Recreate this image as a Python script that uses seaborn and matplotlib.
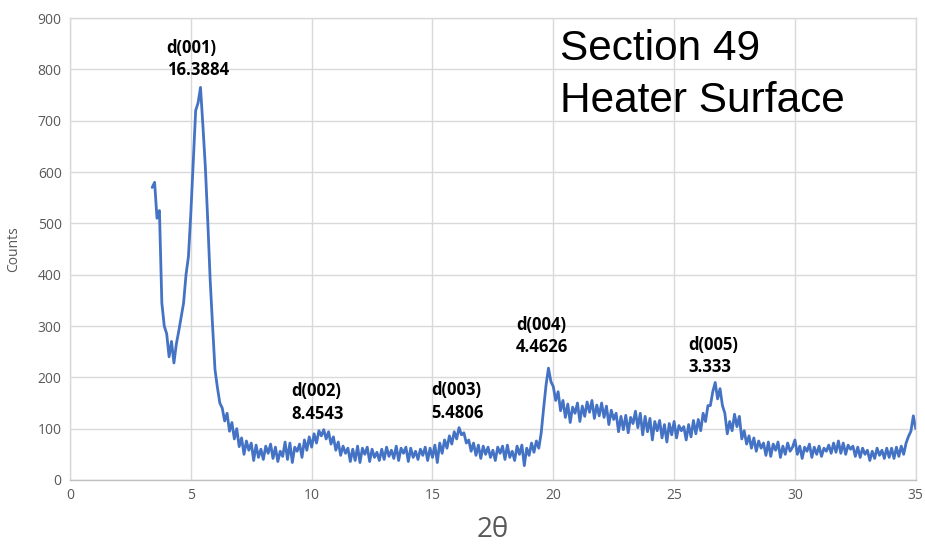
import numpy as np
import pandas as pd
import matplotlib
matplotlib.use("Agg")
import matplotlib.pyplot as plt
import seaborn as sns

# 2-theta scan: start and step of the scan, counts
TWO_THETA_START = 3.4
TWO_THETA_STEP = 0.1
counts = [
    570, 580, 510, 525, 345, 300,                                  # 3.4-3.9
    285, 240, 270, 228, 265, 290, 318, 345, 400, 435,              # 4.0-4.9
    520, 620, 720, 735, 765, 690, 610, 505, 390, 300,              # 5.0-5.9
    215, 180, 150, 140, 115, 130, 95, 112, 80, 100,                # 6
    65, 82, 50, 76, 58, 72, 38, 68, 44, 60,                        # 7
    40, 66, 52, 70, 42, 64, 36, 56, 46, 74,                        # 8
    40, 72, 34, 64, 56, 70, 44, 78, 58, 84,                        # 9
    64, 90, 72, 96, 86, 98, 80, 94, 70, 84,                        # 10
    58, 74, 48, 66, 52, 62, 36, 60, 38, 66,                        # 11
    34, 62, 50, 64, 36, 60, 44, 54, 38, 60,                        # 12
    40, 64, 46, 58, 42, 66, 38, 62, 52, 64,                        # 13
    36, 62, 44, 56, 40, 60, 48, 64, 38, 62,                        # 14
    44, 68, 34, 72, 52, 78, 62, 86, 70, 94,                        # 15
    80, 102, 88, 92, 72, 78, 56, 72, 48, 68,                       # 16
    42, 66, 50, 64, 44, 58, 38, 64, 52, 66,                        # 17
    40, 68, 44, 56, 38, 66, 50, 68, 28, 62,                        # 18
    48, 72, 54, 76, 62, 92, 140, 185, 218, 192,                    # 19
    182, 155, 172, 135, 155, 122, 148, 112, 142, 130,              # 20
    150, 114, 144, 124, 152, 132, 155, 120, 146, 125,              # 21
    150, 122, 144, 108, 136, 118, 130, 94, 124, 98,                # 22
    126, 92, 122, 110, 134, 102, 130, 88, 124, 94,                 # 23
    120, 78, 114, 96, 116, 82, 108, 74, 110, 88,                   # 24
    114, 82, 106, 96, 104, 78, 108, 84, 116, 90,                   # 25
    118, 96, 130, 114, 145, 145, 172, 190, 158, 178,               # 26
    145, 130, 90, 114, 96, 128, 104, 124, 80, 96,                  # 27
    70, 86, 62, 82, 56, 76, 62, 72, 48, 74,                        # 28
    46, 70, 58, 74, 44, 66, 50, 72, 56, 64,                        # 29
    78, 50, 66, 42, 64, 56, 70, 44, 64, 50,                        # 30
    66, 46, 62, 56, 68, 52, 72, 54, 76, 52,                        # 31
    72, 50, 68, 60, 66, 46, 64, 44, 62, 50,                        # 32
    58, 38, 56, 42, 62, 48, 58, 42, 62, 44,                        # 33
    62, 42, 64, 46, 66, 50, 72, 85, 95, 125,                       # 34
    100,                                                           # 35
]
two_theta = np.round(TWO_THETA_START + TWO_THETA_STEP * np.arange(len(counts)), 2)

peak_labels = ["d(001)\n16.3884", "d(002)\n8.4543", "d(003)\n5.4806",
               "d(004)\n4.4626", "d(005)\n3.333"]
label_x = [4.0, 9.15, 14.94, 18.45, 25.57]
label_y = [860, 190, 192, 320, 280]

title_text = "Section 49\nHeater Surface"
x_ticks = [0, 5, 10, 15, 20, 25, 30, 35]
y_ticks = [0, 100, 200, 300, 400, 500, 600, 700, 800, 900]

df = pd.DataFrame({"2θ": two_theta, "Counts": counts})

sns.set_theme(style="whitegrid")
plt.rcParams["font.family"] = ["Open Sans", "DejaVu Sans"]

fig = plt.figure(figsize=(9.25, 5.49), dpi=100)
ax = fig.add_axes([0.0757, 0.1257, 0.9143, 0.8413])

sns.lineplot(data=df, x="2θ", y="Counts", ax=ax, color="#4472C4", linewidth=2.0)

ax.set_xlim(0, 35)
ax.set_ylim(0, 900)
ax.set_xticks(x_ticks)
ax.set_yticks(y_ticks)
ax.grid(True, color="#d9d9d9", linewidth=1.0)
for s in ax.spines.values():
    s.set_color("#d9d9d9")
    s.set_linewidth(1.0)
ax.spines["bottom"].set_color("#bfbfbf")
ax.tick_params(axis="both", colors="#595959", labelsize=10, length=0, pad=6)
ax.set_xlabel("2θ", fontsize=20, color="#595959", labelpad=9)
ax.set_ylabel("Counts", fontsize=10, color="#595959", labelpad=12)

for t, xx, yy in zip(peak_labels, label_x, label_y):
    ax.text(xx, yy, t, ha="left", va="top", fontsize=12, fontweight="bold",
            color="black", linespacing=1.3)

ax.text(20.27, 878, title_text, ha="left", va="top", fontsize=30.5,
        family="Liberation Sans", color="black", linespacing=1.38)

fig.savefig("out.png", dpi=100)
